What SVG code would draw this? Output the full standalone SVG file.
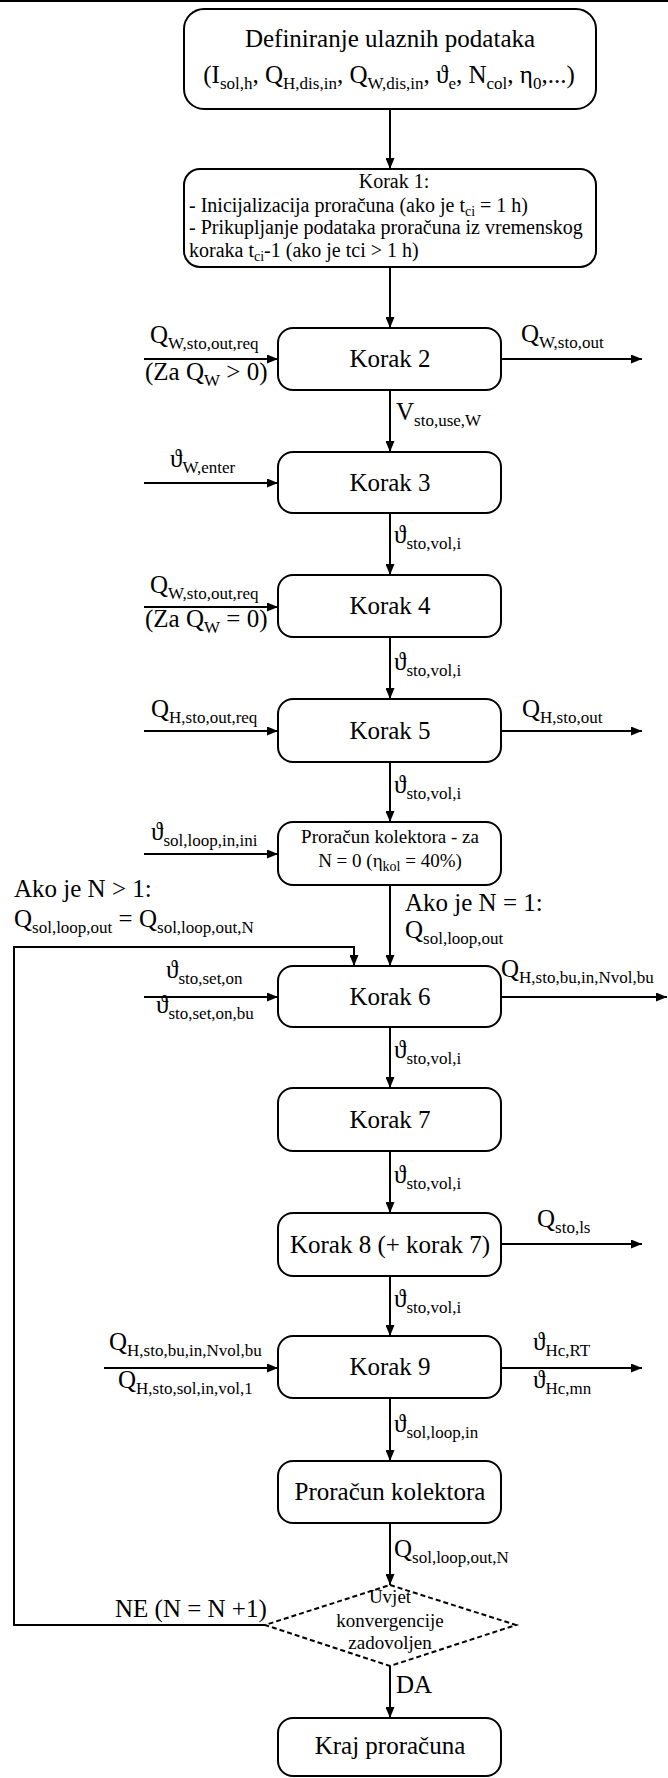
<svg xmlns="http://www.w3.org/2000/svg" width="668" height="1778" viewBox="0 0 668 1778" font-family="'Liberation Serif', 'Times New Roman', serif">
<defs>
<style>
text, tspan {font-family:'Liberation Serif','Times New Roman',serif;fill:#000}
.t{font-size:25px}
.m{font-size:25px;text-anchor:middle}
.k1{font-size:20px}
.d{font-size:19px;text-anchor:middle}
.s{font-size:17px}
.ss{font-size:14px}
.box{fill:#fff;stroke:#000;stroke-width:2}
.c{fill:none;stroke:#000;stroke-width:2}
</style>
<marker id="ah" markerWidth="11" markerHeight="9" refX="11" refY="4.5" orient="auto" markerUnits="userSpaceOnUse"><path d="M0,0 L11,4.5 L0,9 z" fill="#000"/></marker>
</defs>
<rect x="0" y="0" width="668" height="1778" fill="#fff"/>
<line x1="0" y1="1" x2="668" y2="1" stroke="#000" stroke-width="2"/>

<g id="connectors">
<path class="c" d="M390,109 V169" marker-end="url(#ah)"/>
<path class="c" d="M390,267 V328" marker-end="url(#ah)"/>
<path class="c" d="M144,359 H278" marker-end="url(#ah)"/>
<path class="c" d="M501,359 H642" marker-end="url(#ah)"/>
<path class="c" d="M390,390 V452" marker-end="url(#ah)"/>
<path class="c" d="M144,483 H278" marker-end="url(#ah)"/>
<path class="c" d="M390,513 V575" marker-end="url(#ah)"/>
<path class="c" d="M144,607 H278" marker-end="url(#ah)"/>
<path class="c" d="M390,637 V699" marker-end="url(#ah)"/>
<path class="c" d="M144,731 H278" marker-end="url(#ah)"/>
<path class="c" d="M501,731 H642" marker-end="url(#ah)"/>
<path class="c" d="M390,762 V822" marker-end="url(#ah)"/>
<path class="c" d="M144,854 H278" marker-end="url(#ah)"/>
<path class="c" d="M390,885 V966" marker-end="url(#ah)"/>
<path class="c" d="M265,1625 H14 V947 H354 V966" marker-end="url(#ah)"/>
<path class="c" d="M144,997 H278" marker-end="url(#ah)"/>
<path class="c" d="M501,997 H667" marker-end="url(#ah)"/>
<path class="c" d="M390,1027 V1088" marker-end="url(#ah)"/>
<path class="c" d="M390,1151 V1213" marker-end="url(#ah)"/>
<path class="c" d="M501,1244 H642" marker-end="url(#ah)"/>
<path class="c" d="M390,1276 V1336" marker-end="url(#ah)"/>
<path class="c" d="M104,1368 H278" marker-end="url(#ah)"/>
<path class="c" d="M501,1368 H642" marker-end="url(#ah)"/>
<path class="c" d="M390,1398 V1461" marker-end="url(#ah)"/>
<path class="c" d="M390,1523 V1585" marker-end="url(#ah)"/>
<path class="c" d="M390,1666 V1718" marker-end="url(#ah)"/>
</g>

<g id="n-start">
<rect class="box" x="184" y="9" width="412" height="100" rx="20"/>
<text class="m" x="390" y="47">Definiranje ulaznih podataka</text>
<text x="389" y="83" style="font-size:25px;text-anchor:middle">(I<tspan class="s" dy="6">sol,h</tspan><tspan dy="-6">, Q</tspan><tspan class="s" dy="6">H,dis,in</tspan><tspan dy="-6">, Q</tspan><tspan class="s" dy="6">W,dis,in</tspan><tspan dy="-6">, ϑ</tspan><tspan class="s" dy="6">e</tspan><tspan dy="-6">, N</tspan><tspan class="s" dy="6">col</tspan><tspan dy="-6">, η</tspan><tspan class="s" dy="6">0</tspan><tspan dy="-6">,...)</tspan></text>
</g>

<g id="n-korak1">
<rect class="box" x="184" y="169" width="412" height="98" rx="16"/>
<text class="k1" x="394" y="188" text-anchor="middle">Korak 1:</text>
<text class="k1" x="189" y="212">- Inicijalizacija proračuna (ako je t<tspan class="ss" dy="4">ci</tspan><tspan dy="-4"> = 1 h)</tspan></text>
<text class="k1" x="189" y="234">- Prikupljanje podataka proračuna iz vremenskog</text>
<text class="k1" x="189" y="257">koraka t<tspan class="ss" dy="4">ci</tspan><tspan dy="-4">-1 (ako je tci &gt; 1 h)</tspan></text>
</g>

<g id="n-korak2"><rect class="box" x="278" y="328" width="223" height="62" rx="15"/><text class="m" x="390" y="367">Korak 2</text></g>
<g id="n-korak3"><rect class="box" x="278" y="452" width="223" height="61" rx="15"/><text class="m" x="390" y="491">Korak 3</text></g>
<g id="n-korak4"><rect class="box" x="278" y="575" width="223" height="62" rx="15"/><text class="m" x="390" y="614">Korak 4</text></g>
<g id="n-korak5"><rect class="box" x="278" y="699" width="223" height="63" rx="15"/><text class="m" x="390" y="739">Korak 5</text></g>
<g id="n-kolektor0"><rect class="box" x="278" y="822" width="223" height="63" rx="15"/>
<text class="d" x="390" y="843">Proračun kolektora - za</text>
<text class="d" x="390" y="867">N = 0 (η<tspan class="ss" dy="4">kol</tspan><tspan dy="-4"> = 40%)</tspan></text></g>
<g id="n-korak6"><rect class="box" x="278" y="966" width="223" height="61" rx="15"/><text class="m" x="390" y="1005">Korak 6</text></g>
<g id="n-korak7"><rect class="box" x="278" y="1088" width="223" height="63" rx="15"/><text class="m" x="390" y="1128">Korak 7</text></g>
<g id="n-korak8"><rect class="box" x="278" y="1213" width="223" height="63" rx="15"/><text class="m" x="390" y="1253">Korak 8 (+ korak 7)</text></g>
<g id="n-korak9"><rect class="box" x="278" y="1336" width="223" height="62" rx="15"/><text class="m" x="390" y="1375">Korak 9</text></g>
<g id="n-kolektor"><rect class="box" x="278" y="1461" width="223" height="62" rx="15"/><text class="m" x="390" y="1500">Proračun kolektora</text></g>
<g id="n-uvjet"><path d="M390,1585 L516,1625 L390,1666 L265,1625 Z" fill="#fff" stroke="#000" stroke-width="2" stroke-dasharray="5 3"/>
<text class="d" x="390" y="1603">Uvjet</text>
<text class="d" x="390" y="1627">konvergencije</text>
<text class="d" x="390" y="1649">zadovoljen</text></g>
<g id="n-kraj"><rect class="box" x="278" y="1718" width="223" height="58" rx="15"/><text class="m" x="390" y="1754">Kraj proračuna</text></g>

<g id="labels">
<text class="t" x="150" y="343">Q<tspan class="s" dy="6">W,sto,out,req</tspan></text>
<text class="t" x="145" y="380">(Za Q<tspan class="s" dy="6">W</tspan><tspan dy="-6"> &gt; 0)</tspan></text>
<text class="t" x="521" y="342">Q<tspan class="s" dy="6">W,sto,out</tspan></text>
<text class="t" x="396" y="420">V<tspan class="s" dy="6">sto,use,W</tspan></text>
<text class="t" x="170" y="467">ϑ<tspan class="s" dy="6">W,enter</tspan></text>
<text class="t" x="394" y="543">ϑ<tspan class="s" dy="6">sto,vol,i</tspan></text>
<text class="t" x="150" y="593">Q<tspan class="s" dy="6">W,sto,out,req</tspan></text>
<text class="t" x="145" y="627">(Za Q<tspan class="s" dy="6">W</tspan><tspan dy="-6"> = 0)</tspan></text>
<text class="t" x="394" y="670">ϑ<tspan class="s" dy="6">sto,vol,i</tspan></text>
<text class="t" x="151" y="717">Q<tspan class="s" dy="6">H,sto,out,req</tspan></text>
<text class="t" x="522" y="717">Q<tspan class="s" dy="6">H,sto,out</tspan></text>
<text class="t" x="394" y="793">ϑ<tspan class="s" dy="6">sto,vol,i</tspan></text>
<text class="t" x="151" y="840">ϑ<tspan class="s" dy="6">sol,loop,in,ini</tspan></text>
<text class="t" x="14" y="897">Ako je N &gt; 1:</text>
<text class="t" x="14" y="927">Q<tspan class="s" dy="6">sol,loop,out</tspan><tspan dy="-6"> = Q</tspan><tspan class="s" dy="6">sol,loop,out,N</tspan></text>
<text class="t" x="405" y="911">Ako je N = 1:</text>
<text class="t" x="405" y="938">Q<tspan class="s" dy="6">sol,loop,out</tspan></text>
<text class="t" x="166" y="978">ϑ<tspan class="s" dy="6">sto,set,on</tspan></text>
<text class="t" x="156" y="1013">ϑ<tspan class="s" dy="6">sto,set,on,bu</tspan></text>
<text class="t" x="501" y="977">Q<tspan class="s" dy="6">H,sto,bu,in,Nvol,bu</tspan></text>
<text class="t" x="394" y="1058">ϑ<tspan class="s" dy="6">sto,vol,i</tspan></text>
<text class="t" x="394" y="1183">ϑ<tspan class="s" dy="6">sto,vol,i</tspan></text>
<text class="t" x="537" y="1227">Q<tspan class="s" dy="6">sto,ls</tspan></text>
<text class="t" x="394" y="1307">ϑ<tspan class="s" dy="6">sto,vol,i</tspan></text>
<text class="t" x="109" y="1350">Q<tspan class="s" dy="6">H,sto,bu,in,Nvol,bu</tspan></text>
<text class="t" x="118" y="1388">Q<tspan class="s" dy="6">H,sto,sol,in,vol,1</tspan></text>
<text class="t" x="533" y="1350">ϑ<tspan class="s" dy="6">Hc,RT</tspan></text>
<text class="t" x="533" y="1388">ϑ<tspan class="s" dy="6">Hc,mn</tspan></text>
<text class="t" x="394" y="1432">ϑ<tspan class="s" dy="6">sol,loop,in</tspan></text>
<text class="t" x="394" y="1557">Q<tspan class="s" dy="6">sol,loop,out,N</tspan></text>
<text class="t" x="115" y="1617">NE (N = N +1)</text>
<text class="t" x="396" y="1693">DA</text>
</g>
</svg>
